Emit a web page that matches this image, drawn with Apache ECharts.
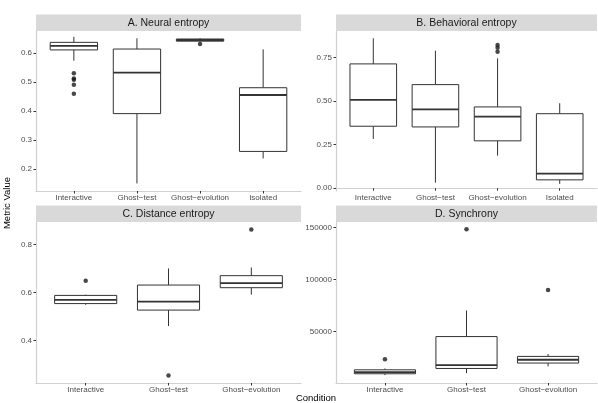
<!DOCTYPE html>
<html><head><meta charset="utf-8">
<script src="https://cdn.jsdelivr.net/npm/echarts@6/dist/echarts.min.js"></script>
<style>html,body{margin:0;padding:0;background:#fff}#c{width:598px;height:403px}</style>
</head><body><div id="c"></div>
<script>
// ---- data ----
const catsAB = ['Interactive', 'Ghost\u2212test', 'Ghost\u2212evolution', 'Isolated'];
const catsCD = ['Interactive', 'Ghost\u2212test', 'Ghost\u2212evolution'];

// [lower whisker, q1, median, q3, upper whisker]
const neuralStats = [[0.573, 0.610, 0.624, 0.636, 0.655], [0.151, 0.391, 0.532, 0.613, 0.650], [0.638, 0.640, 0.644, 0.6475, 0.650], [0.237, 0.261, 0.455, 0.480, 0.612]];
const neuralOut = [[0.530, 0.512, 0.507, 0.490, 0.459], [], [0.630], []];

const behavStats = [[0.283, 0.356, 0.507, 0.714, 0.861], [0.032, 0.352, 0.453, 0.595, 0.790], [0.187, 0.272, 0.411, 0.467, 0.746], [0.025, 0.048, 0.084, 0.428, 0.488]];
const behavOut = [[], [], [0.823, 0.807, 0.784], []];

const distStats = [[0.549, 0.554, 0.569, 0.588, 0.591], [0.461, 0.527, 0.562, 0.631, 0.700], [0.591, 0.620, 0.639, 0.670, 0.704]];
const distOut = [[0.649], [0.255], [0.862]];

const syncStats = [[8100, 9400, 11000, 13200, 14500], [10000, 14500, 17700, 45200, 70300], [16500, 19700, 22900, 26100, 28400]];
const syncOut = [[23300], [148400], [90000]];

const ticksA = [0.2, 0.3, 0.4, 0.5, 0.6];
const ticksB = [0.00, 0.25, 0.50, 0.75];
const ticksC = [0.4, 0.6, 0.8];
const ticksD = [50000, 100000, 150000];

const titles = ['A. Neural entropy', 'B. Behavioral entropy', 'C. Distance entropy', 'D. Synchrony'];

// ---- layout ----
const panels = [
  {grid: {left: 36, top: 31, width: 265, height: 160}, cats: catsAB, stats: neuralStats, out: neuralOut, ticks: ticksA, dec: 1, ymin: 0.125, ymax: 0.675},
  {grid: {left: 336, top: 31, width: 261, height: 160}, cats: catsAB, stats: behavStats, out: behavOut, ticks: ticksB, dec: 2, ymin: -0.016, ymax: 0.903},
  {grid: {left: 36, top: 222, width: 265, height: 161}, cats: catsCD, stats: distStats, out: distOut, ticks: ticksC, dec: 1, ymin: 0.224, ymax: 0.893},
  {grid: {left: 336, top: 222, width: 261, height: 161}, cats: catsCD, stats: syncStats, out: syncOut, ticks: ticksD, dec: 0, ymin: 500, ymax: 155500}
];

const labelColor = '#4d4d4d';
const FONT = 'Liberation Sans, Arial, sans-serif';

function renderBox(params, api) {
  const x = api.value(0);
  const lo = api.coord([x, api.value(1)]);
  const q1 = api.coord([x, api.value(2)]);
  const med = api.coord([x, api.value(3)]);
  const q3 = api.coord([x, api.value(4)]);
  const hi = api.coord([x, api.value(5)]);
  const w = api.size([0.75, 0])[0];
  const cx = lo[0];
  const st = {stroke: '#333', lineWidth: 1, fill: null};
  return {type: 'group', children: [
    {type: 'line', shape: {x1: cx, y1: hi[1], x2: cx, y2: q3[1]}, style: st},
    {type: 'line', shape: {x1: cx, y1: q1[1], x2: cx, y2: lo[1]}, style: st},
    {type: 'rect', shape: {x: cx - w / 2, y: q3[1], width: w, height: q1[1] - q3[1]}, style: {stroke: '#333', lineWidth: 1, fill: '#fff'}},
    {type: 'line', shape: {x1: cx - w / 2, y1: med[1], x2: cx + w / 2, y2: med[1]}, style: {stroke: '#333', lineWidth: 1.8}}
  ]};
}

const grid = [], xAxis = [], yAxis = [], series = [], graphic = [];
panels.forEach((p, i) => {
  grid.push(Object.assign({containLabel: false}, p.grid));
  const n = p.cats.length;
  const catIdx = p.cats.map((c, k) => k + 1);
  xAxis.push({
    type: 'value', gridIndex: i, min: 0.4, max: n + 0.6,
    splitLine: {show: false},
    axisLine: {show: true, lineStyle: {color: '#d0d0d0', width: 1.2}},
    axisTick: {show: true, customValues: catIdx, length: 2.5, lineStyle: {color: '#333'}},
    axisLabel: {customValues: catIdx, margin: 3, fontSize: 8, color: labelColor, fontFamily: FONT,
      formatter: v => p.cats[Math.round(v) - 1] || ''}
  });
  yAxis.push({
    type: 'value', gridIndex: i, min: p.ymin, max: p.ymax,
    splitLine: {show: false},
    axisLine: {show: true, lineStyle: {color: '#d0d0d0', width: 1.2}},
    axisTick: {show: true, customValues: p.ticks, length: 2.5, lineStyle: {color: '#333'}},
    axisLabel: {customValues: p.ticks, margin: 4, fontSize: 8, color: labelColor, fontFamily: FONT,
      formatter: v => Number(v).toFixed(p.dec)}
  });
  series.push({
    type: 'custom', xAxisIndex: i, yAxisIndex: i, renderItem: renderBox,
    encode: {x: 0, y: [1, 2, 3, 4, 5]},
    data: p.stats.map((s, k) => [k + 1].concat(s)), silent: true
  });
  const pts = [];
  p.out.forEach((arr, k) => arr.forEach(v => pts.push([k + 1, v])));
  series.push({
    type: 'scatter', xAxisIndex: i, yAxisIndex: i, data: pts, symbolSize: 4.5,
    itemStyle: {color: '#1a1a1a'}, silent: true
  });
  const g = p.grid;
  const sy = g.top - 16.5;
  graphic.push({type: 'rect', left: g.left, top: sy, shape: {width: g.width, height: 16.5}, style: {fill: '#d9d9d9'}, silent: true});
  graphic.push({type: 'text', x: g.left + g.width / 2, y: sy + 8.5, style: {text: titles[i], fill: '#1a1a1a', font: '10.5px ' + FONT, textAlign: 'center', textVerticalAlign: 'middle'}, silent: true});
});

graphic.push({type: 'text', x: 316, y: 398, style: {text: 'Condition', fill: '#000', font: '9.5px ' + FONT, textAlign: 'center', textVerticalAlign: 'middle'}, silent: true});
graphic.push({type: 'text', x: 7, y: 203, rotation: Math.PI / 2, style: {text: 'Metric Value', fill: '#000', font: '9.5px ' + FONT, textAlign: 'center', textVerticalAlign: 'middle'}, silent: true});

const chart = echarts.init(document.getElementById('c'), null, {renderer: 'canvas'});
chart.setOption({backgroundColor: '#fff', animation: false, grid, xAxis, yAxis, series, graphic});
</script></body></html>
